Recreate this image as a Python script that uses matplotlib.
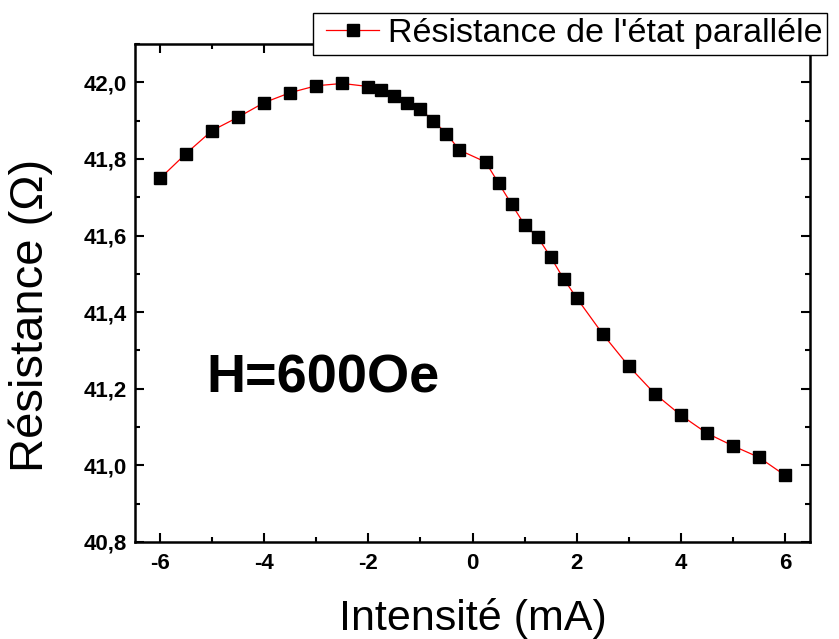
import numpy as np
import matplotlib.pyplot as plt
from matplotlib.ticker import MultipleLocator, FormatStrFormatter
from matplotlib.legend_handler import HandlerLine2D

plt.rcParams['font.family'] = ['Liberation Sans', 'DejaVu Sans']

# courant (mA) et résistance (Ohm)
intensite = [-6, -5.5, -5, -4.5, -4, -3.5, -3, -2.5, -2, -1.75, -1.5, -1.25,
             -1, -0.75, -0.5, -0.25, 0.25, 0.5, 0.75, 1, 1.25, 1.5, 1.75, 2,
             2.5, 3, 3.5, 4, 4.5, 5, 5.5, 6]
resistance = [41.749, 41.814, 41.874, 41.909, 41.947, 41.973, 41.991, 41.997,
              41.989, 41.980, 41.965, 41.947, 41.930, 41.899, 41.866, 41.823,
              41.792, 41.737, 41.682, 41.628, 41.596, 41.544, 41.487, 41.437,
              41.343, 41.259, 41.187, 41.131, 41.084, 41.051, 41.021, 40.974]

fig = plt.figure(figsize=(8.39, 6.39), dpi=100)
ax = fig.add_axes([135/839, 1-542/639, 675/839, 498/639])

line, = ax.plot(intensite, resistance, color='red', lw=0.9, marker='s', ms=8,
                mfc='black', mec='black', label="Résistance de l'état paralléle")

ax.set_xlim(-6.48, 6.48)
ax.set_ylim(40.8, 42.1)
ax.xaxis.set_major_locator(MultipleLocator(2))
ax.xaxis.set_minor_locator(MultipleLocator(1))
ax.yaxis.set_major_locator(MultipleLocator(0.2))
ax.yaxis.set_minor_locator(MultipleLocator(0.1))
ax.xaxis.set_major_formatter(FormatStrFormatter('%d'))
ax.yaxis.set_major_formatter(plt.FuncFormatter(lambda v, p: ('%.1f' % v).replace('.', ',')))

ax.tick_params(which='both', direction='in', top=True, right=True, width=1.5)
ax.tick_params(which='major', length=6.5, labelsize=16)
ax.tick_params(axis='x', which='major', pad=8)
ax.tick_params(axis='y', which='major', pad=6)
ax.tick_params(which='minor', length=3.5)
for lab in ax.get_xticklabels() + ax.get_yticklabels():
    lab.set_fontweight('bold')
for sp in ax.spines.values():
    sp.set_linewidth(1.8)

ax.set_xlabel('Intensité (mA)', fontsize=31, va='baseline')
ax.xaxis.set_label_coords(0.5, -(630-542)/498)
ax.set_ylabel('Résistance (Ω)', fontsize=34, va='baseline')
ax.yaxis.set_label_coords((43-135)/675, (542-315)/498)

ax.text(-2.87, 41.189, 'H=600Oe', fontsize=39, fontweight='bold',
        ha='center', va='baseline')

leg = ax.legend(loc='upper left', bbox_to_anchor=(312.7/839, 1-13.3/639),
                bbox_transform=fig.transFigure, borderaxespad=0, fontsize=24.5,
                fancybox=False, framealpha=1, edgecolor='black', numpoints=1,
                handlelength=1.8, handletextpad=0.25, borderpad=0.15,
                handler_map={line: HandlerLine2D(xpad=0.25)})
leg.get_frame().set_linewidth(1.0)
leg.set_zorder(5)

fig.savefig('out.png', dpi=100)
